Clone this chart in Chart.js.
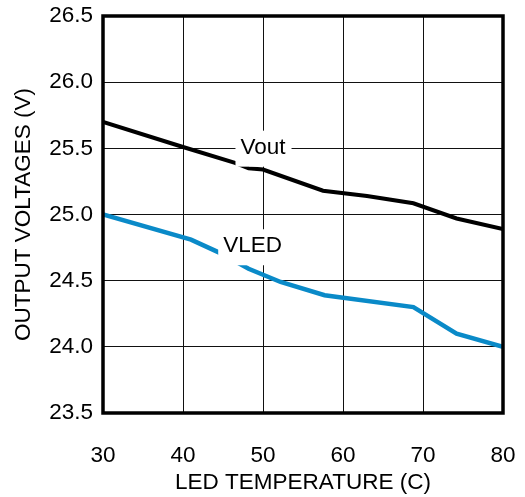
<!DOCTYPE html>
<html>
<head>
<meta charset="utf-8">
<script src="https://cdn.jsdelivr.net/npm/chart.js@4/dist/chart.umd.min.js"></script>
<style>
  html, body { margin: 0; padding: 0; background: #fff; }
  #wrap { width: 525px; height: 497px; }
</style>
</head>
<body>
<div id="wrap"><canvas id="chartCanvas"></canvas></div>
<script>
const voutTemps = [30, 40, 46.5, 48.2, 50, 57.5, 63, 68.8, 74.2, 80];
const voutValues = [25.70, 25.51, 25.39, 25.35, 25.34, 25.18, 25.14, 25.085, 24.97, 24.89];
const vledTemps = [30, 41, 44.6, 48.2, 52.2, 57.7, 68.8, 74.2, 80];
const vledValues = [25.0, 24.81, 24.71, 24.59, 24.49, 24.39, 24.30, 24.10, 24.0];
const xTicks = [30, 40, 50, 60, 70, 80];
const yTicks = [23.5, 24.0, 24.5, 25.0, 25.5, 26.0, 26.5];
const seriesLabels = [
  { text: "Vout", x: 50, y: 25.505 },
  { text: "VLED", x: 48.7, y: 24.76 }
];

const FONT = "'Liberation Sans', Arial, Helvetica, sans-serif";
const FS = 22.5;

const labelPlugin = {
  id: 'labels',
  afterDatasetsDraw(chart) {
    const ctx = chart.ctx;
    const xs = chart.scales.x, ys = chart.scales.y;
    ctx.save();
    ctx.font = FS + "px " + FONT;
    ctx.textAlign = "center";
    ctx.textBaseline = "middle";
    seriesLabels.forEach(l => {
      const px = xs.getPixelForValue(l.x);
      const py = ys.getPixelForValue(l.y);
      const w = ctx.measureText(l.text).width;
      ctx.fillStyle = "#fff";
      ctx.fillRect(px - w / 2 - 5, py - 17, w + 11, 36);
      ctx.fillStyle = "#000";
      ctx.fillText(l.text, px, py);
    });
    ctx.restore();
  },
  afterDraw(chart) {
    const a = chart.chartArea;
    const ctx = chart.ctx;
    ctx.save();
    ctx.strokeStyle = "#000";
    ctx.lineWidth = 3.5;
    ctx.strokeRect(a.left, a.top, a.right - a.left, a.bottom - a.top);
    ctx.restore();
  }
};

const ctx = document.getElementById('chartCanvas').getContext('2d');
new Chart(ctx, {
  type: 'line',
  data: {
    datasets: [
      {
        label: "Vout",
        data: voutTemps.map((t, i) => ({ x: t, y: voutValues[i] })),
        borderColor: "#000",
        borderWidth: 4,
        pointRadius: 0,
        tension: 0
      },
      {
        label: "VLED",
        data: vledTemps.map((t, i) => ({ x: t, y: vledValues[i] })),
        borderColor: "#0a8ac8",
        borderWidth: 4.5,
        pointRadius: 0,
        tension: 0
      }
    ]
  },
  options: {
    responsive: true,
    maintainAspectRatio: false,
    animation: false,
    layout: { padding: { top: 16, right: 22, left: 0, bottom: 0 } },
    plugins: {
      legend: { display: false },
      tooltip: { enabled: false }
    },
    scales: {
      x: {
        type: 'linear',
        min: 30,
        max: 80,
        afterBuildTicks: s => { s.ticks = xTicks.map(v => ({ value: v })); },
        afterFit: s => { s.height = 84; s.paddingLeft = 0; s.paddingRight = 0; },
        grid: { color: "#111", lineWidth: 1, drawTicks: false },
        border: { display: false },
        ticks: { color: "#000", font: { family: FONT, size: FS }, padding: 29, maxRotation: 0 },
        title: {
          display: true,
          text: "LED TEMPERATURE (C)",
          color: "#000",
          font: { family: FONT, size: FS },
          padding: { top: 0, bottom: 1 }
        }
      },
      y: {
        min: 23.5,
        max: 26.5,
        afterBuildTicks: s => { s.ticks = yTicks.map(v => ({ value: v })); },
        afterFit: s => { s.width = 103; s.paddingTop = 0; s.paddingBottom = 0; },
        grid: { color: "#111", lineWidth: 1, drawTicks: false },
        border: { display: false },
        ticks: {
          color: "#000",
          font: { family: FONT, size: FS },
          padding: 10,
          callback: v => v.toFixed(1)
        },
        title: {
          display: true,
          text: "OUTPUT VOLTAGES (V)",
          color: "#000",
          font: { family: FONT, size: FS },
          padding: { top: 10, bottom: 0 }
        }
      }
    }
  },
  plugins: [labelPlugin]
});
</script>
</body>
</html>
